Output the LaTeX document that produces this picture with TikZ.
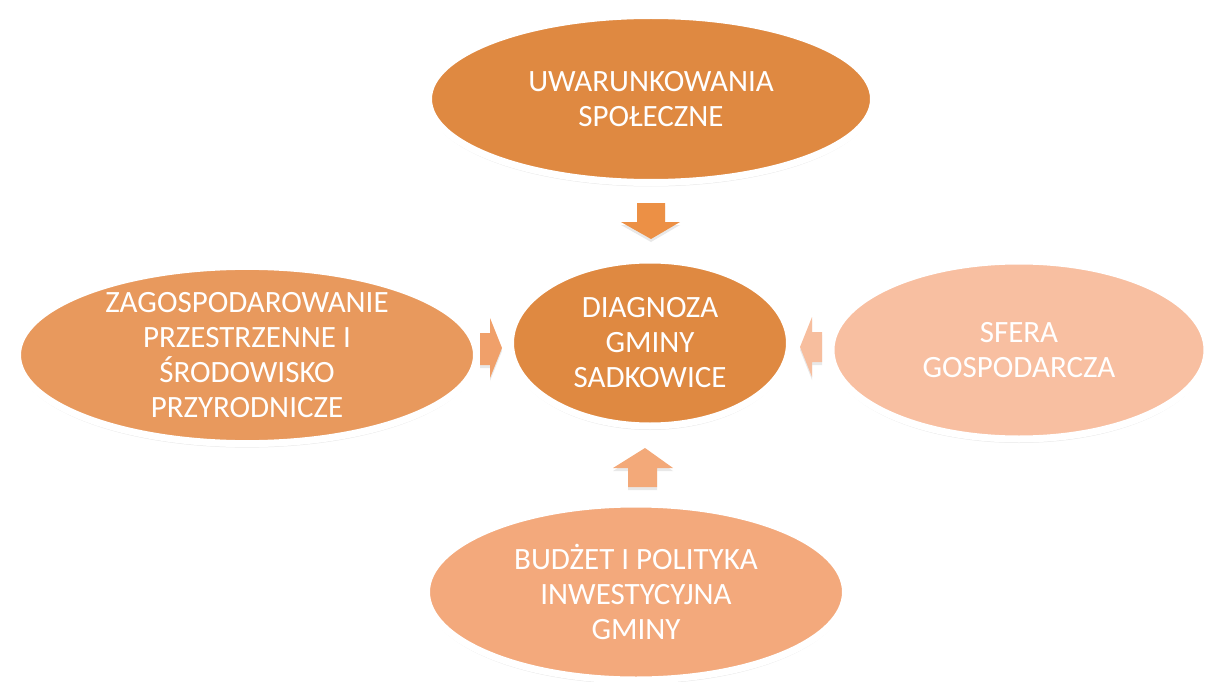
\documentclass[tikz,border=0pt]{standalone}
\usepackage{fontspec}
\setmainfont{Carlito}
\usetikzlibrary{shapes.geometric,shadows}
\definecolor{topfill}{HTML}{DF8941}
\definecolor{midfill}{HTML}{DF8941}
\definecolor{leftfill}{HTML}{E8995D}
\definecolor{rightfill}{HTML}{F8BFA1}
\definecolor{botfill}{HTML}{F3A97C}
\definecolor{downarr}{HTML}{EC9045}
\definecolor{rightarr}{HTML}{F0A06A}
\definecolor{leftarr}{HTML}{F7BE9E}
\definecolor{uparr}{HTML}{F3A979}
\begin{document}
\begin{tikzpicture}[x=1pt,y=-1pt]
        \tikzset{oval/.style={ellipse, draw=white, line width=7pt, inner sep=0pt,
                   text=white, align=center,
                   font=\fontsize{31}{35}\selectfont,
                   drop shadow={opacity=0.18, shadow xshift=0pt, shadow yshift=-4pt}},
                 blockarr/.style={drop shadow={opacity=0.18, shadow xshift=0pt, shadow yshift=-3pt}}}
        \useasboundingbox (0,0) rectangle (1210,682);
        % ovals
        \node [oval, fill=topfill, minimum width=445pt, minimum height=167pt] (spol) at (651,99)
              {UWARUNKOWANIA\\SPOŁECZNE};
        \node [oval, fill=leftfill, minimum width=459pt, minimum height=171pt] (zagosp) at (247,355)
              {ZAGOSPODAROWANIE\\PRZESTRZENNE I\\ŚRODOWISKO\\PRZYRODNICZE};
        \node [oval, fill=rightfill, minimum width=376pt, minimum height=178pt] (sfera) at (1019,350)
              {SFERA\\GOSPODARCZA};
        \node [oval, fill=botfill, minimum width=419pt, minimum height=176pt] (budzet) at (636,592)
              {BUDŻET I POLITYKA\\INWESTYCYJNA\\GMINY};
        \node [oval, fill=midfill, minimum width=279pt, minimum height=166pt] (diag) at (650,343)
              {DIAGNOZA\\GMINY\\SADKOWICE};
        % block arrows
        \fill [downarr, blockarr] (637,203) -- (665,203) -- (665,222) -- (680,222) -- (651,239)
              -- (621,222) -- (637,222) -- cycle;
        \fill [rightarr, blockarr] (480,333) -- (490,333) -- (490,318) -- (502,348) -- (490,378)
              -- (490,365) -- (480,365) -- cycle;
        \fill [leftarr, blockarr] (822,332) -- (812,332) -- (812,317) -- (800,347) -- (812,377)
              -- (812,362) -- (822,362) -- cycle;
        \fill [uparr, blockarr] (628,487) -- (657,487) -- (657,468) -- (673,468) -- (645,448)
              -- (613,468) -- (628,468) -- cycle;
\end{tikzpicture}
\end{document}
